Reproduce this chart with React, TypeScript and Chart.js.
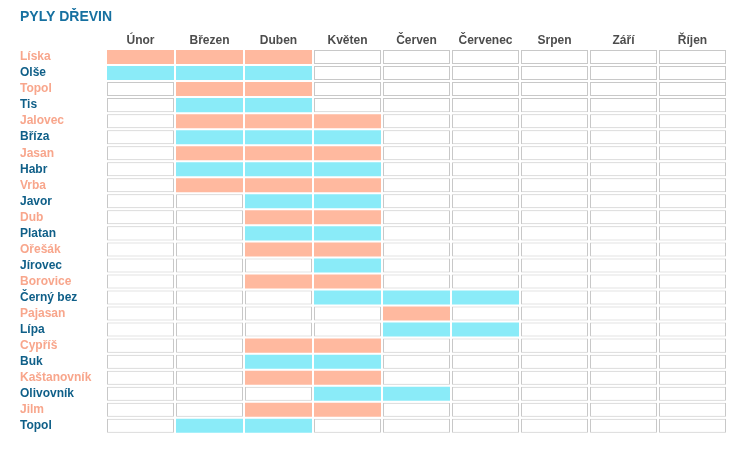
import React, { useEffect, useRef } from "react";
import { Chart, registerables } from "chart.js";

Chart.register(...registerables);

const titleText = "PYLY DŘEVIN";

const months = ["Únor", "Březen", "Duben", "Květen", "Červen", "Červenec", "Srpen", "Září", "Říjen"];

const trees = [
  "Líska", "Olše", "Topol", "Tis", "Jalovec", "Bříza", "Jasan", "Habr", "Vrba", "Javor",
  "Dub", "Platan", "Ořešák", "Jírovec", "Borovice", "Černý bez", "Pajasan", "Lípa",
  "Cypříš", "Buk", "Kaštanovník", "Olivovník", "Jilm", "Topol",
];

// first and last month index (into months) of the pollen season for each tree
const seasonStart = [0, 0, 1, 1, 1, 1, 1, 1, 1, 2, 2, 2, 2, 3, 2, 3, 4, 4, 2, 2, 2, 3, 2, 1];
const seasonEnd = [2, 2, 2, 2, 3, 3, 3, 3, 3, 3, 3, 3, 3, 3, 3, 5, 4, 5, 3, 3, 3, 4, 3, 2];

const SALMON = "#ffb99f";
const CYAN = "#8aebf8";
const LABEL_SALMON = "#f8a68c";
const LABEL_BLUE = "#0f5f88";
const TITLE_BLUE = "#1670a0";
const EMPTY_BORDER = "#c8c8c8";
const CELL_INSET = 1 / 69;
const FONT = "'Liberation Sans', Arial, Helvetica, sans-serif";

export default function App() {
  const ref = useRef<HTMLCanvasElement | null>(null);

  useEffect(() => {
    if (!ref.current) return;
    const filled = (row: number, m: number) => m >= seasonStart[row] && m <= seasonEnd[row];
    const rowColor = (row: number) => (row % 2 === 0 ? SALMON : CYAN);

    const datasets = months.map((name, m) => ({
      label: name,
      data: trees.map(() => [m + CELL_INSET, m + 1 - CELL_INSET]),
      backgroundColor: trees.map((_, r) => (filled(r, m) ? rowColor(r) : "#ffffff")),
      borderColor: trees.map((_, r) => (filled(r, m) ? "rgba(0,0,0,0)" : EMPTY_BORDER)),
      borderWidth: trees.map((_, r) => (filled(r, m) ? 0 : 1)),
      borderSkipped: false,
      grouped: false,
      barPercentage: 0.875,
      categoryPercentage: 1,
      xAxisID: "x",
    }));

    const chart = new Chart(ref.current, {
      type: "bar",
      data: { labels: trees, datasets: datasets as any },
      options: {
        indexAxis: "y",
        animation: false,
        responsive: false,
        layout: { padding: { left: 12, right: 11, top: 0, bottom: 0 } },
        plugins: {
          legend: { display: false },
          tooltip: { enabled: false },
          title: {
            display: true,
            text: titleText,
            align: "start",
            color: TITLE_BLUE,
            font: { family: FONT, size: 14, weight: "bold", lineHeight: "18px" },
            padding: { top: 0, bottom: 0 },
          },
        },
        scales: {
          x: { type: "linear", min: 0, max: 9, display: false },
          x2: {
            type: "category",
            labels: months,
            position: "top",
            offset: true,
            grid: { display: false, drawTicks: false },
            border: { display: false },
            ticks: {
              color: "#4d4d4d",
              padding: 1,
              maxRotation: 0,
              autoSkip: false,
              font: { family: FONT, size: 12, weight: "bold" },
            },
            afterFit: (s: any) => {
              s.height = 23;
            },
          },
          y: {
            type: "category",
            grid: { display: false, drawTicks: false },
            border: { display: false },
            ticks: {
              crossAlign: "far",
              autoSkip: false,
              color: (ctx: any) => (ctx.index % 2 === 0 ? LABEL_SALMON : LABEL_BLUE),
              font: { family: FONT, size: 12, weight: "bold" },
            },
            afterFit: (s: any) => {
              s.width = 86;
            },
          },
        },
      } as any,
    });
    return () => chart.destroy();
  }, []);

  return <canvas ref={ref} width={730} height={436} style={{ display: "block" }} />;
}
